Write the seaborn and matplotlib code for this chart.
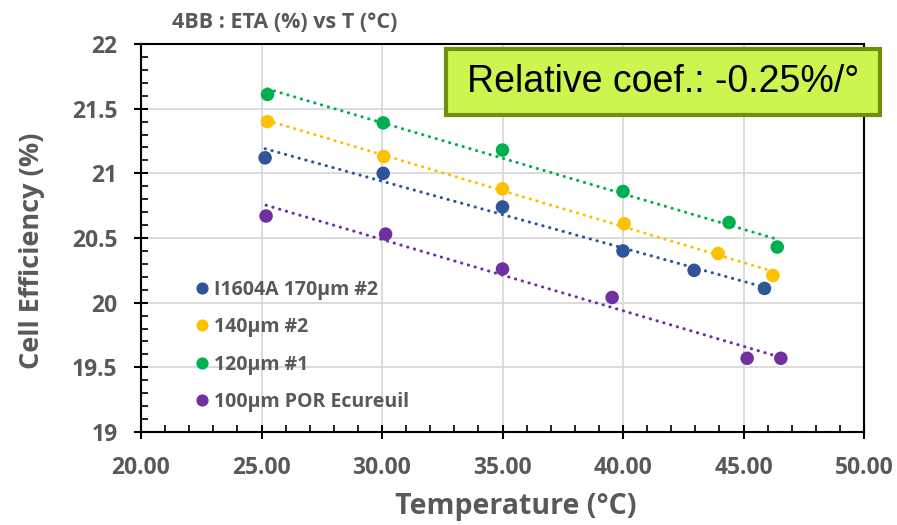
import matplotlib
matplotlib.use("Agg")
import matplotlib.pyplot as plt
import matplotlib.ticker as mticker
from matplotlib.patches import Rectangle
import seaborn as sns
import pandas as pd

# values
series_names = ["I1604A 170µm #2", "140µm #2", "120µm #1", "100µm POR Ecureuil"]
temp_1604 = [25.15, 30.05, 35.0, 40.0, 42.95, 45.87]
eta_1604 = [21.12, 21.00, 20.74, 20.40, 20.25, 20.11]
temp_140 = [25.25, 30.07, 35.0, 40.05, 43.95, 46.22]
eta_140 = [21.40, 21.13, 20.88, 20.61, 20.38, 20.21]
temp_120 = [25.25, 30.05, 35.0, 40.0, 44.4, 46.4]
eta_120 = [21.61, 21.39, 21.18, 20.86, 20.62, 20.43]
temp_100 = [25.19, 30.15, 35.0, 39.55, 45.15, 46.55]
eta_100 = [20.67, 20.53, 20.26, 20.04, 19.57, 19.57]

colors = ["#2F5597", "#FFC000", "#00B050", "#7030A0"]
gray = "#595959"

frames = []
for name, t, e in zip(series_names,
                      [temp_1604, temp_140, temp_120, temp_100],
                      [eta_1604, eta_140, eta_120, eta_100]):
    frames.append(pd.DataFrame({"T": t, "ETA": e, "cell": name}))
df = pd.concat(frames, ignore_index=True)

sns.set_style("white")
plt.rcParams["font.family"] = ["Open Sans", "DejaVu Sans"]
plt.rcParams["font.weight"] = "bold"

fig = plt.figure(figsize=(8.97, 5.25), dpi=100)
ax = fig.add_axes([141 / 897, 1 - 432 / 525, 723 / 897, 388 / 525])

# linear trend lines (dotted), one per cell
for name, c in zip(series_names, colors):
    sub = df[df["cell"] == name]
    sns.regplot(data=sub, x="T", y="ETA", ax=ax, scatter=False, ci=None,
                truncate=True, color=c,
                line_kws={"linestyle": (0, (0.1, 2.2)), "linewidth": 2.2,
                          "dash_capstyle": "round"})

sns.scatterplot(data=df, x="T", y="ETA", hue="cell", hue_order=series_names,
                palette=colors, s=95, edgecolor="none", ax=ax, zorder=3)

ax.set_xlim(20, 50)
ax.set_ylim(19, 22)
ax.xaxis.set_major_locator(mticker.MultipleLocator(5))
ax.xaxis.set_minor_locator(mticker.MultipleLocator(1))
ax.yaxis.set_major_locator(mticker.MultipleLocator(0.5))
ax.yaxis.set_minor_locator(mticker.MultipleLocator(0.1))
ax.xaxis.set_major_formatter(mticker.FormatStrFormatter("%.2f"))
ax.yaxis.set_major_formatter(mticker.FuncFormatter(lambda v, p: f"{v:g}"))

ax.grid(True, which="major", color="#D9D9D9", linewidth=1.3)
ax.set_axisbelow(True)
for sp in ax.spines.values():
    sp.set_visible(True)
    sp.set_color("black")
    sp.set_linewidth(1.5)

ax.tick_params(which="major", direction="inout", length=10, width=1.5,
               color="black", labelsize=16.5, labelcolor=gray)
ax.tick_params(axis="x", which="major", pad=12)
ax.tick_params(axis="y", which="major", pad=12)
ax.tick_params(which="minor", direction="in", length=5, width=1.2,
               color="black")
ax.tick_params(axis="x", which="both", bottom=True)
ax.tick_params(axis="y", which="both", left=True)

ax.set_xlabel("Temperature (°C)", fontsize=20.5, fontweight="bold",
              color=gray, va="center")
ax.set_ylabel("Cell Efficiency (%)", fontsize=19.5, fontweight="bold",
              color=gray, va="center")
ax.xaxis.set_label_coords(0.519, -0.191)
ax.yaxis.set_label_coords(-0.151, 0.466)

handles, labels = ax.get_legend_handles_labels()
leg = ax.legend(handles, labels, loc="center left",
                bbox_to_anchor=(0.073, 0.222), frameon=False,
                borderpad=0, borderaxespad=0, handletextpad=0.25,
                labelspacing=0.9, handlelength=0.8, markerscale=0.9,
                prop={"size": 14, "weight": "bold"})
for txt in leg.get_texts():
    txt.set_color(gray)

fig.text(285 / 897, 1 - 22 / 525, "4BB : ETA (%) vs T (°C)", ha="center",
         va="center", fontsize=15.5, fontweight="bold", color=gray)

# annotation box
fig.patches.append(Rectangle((446 / 897, 1 - 115 / 525), 434 / 897, 66 / 525,
                             transform=fig.transFigure, facecolor="#CCF550",
                             edgecolor="#6F900C", linewidth=3, zorder=5))
fig.text(663 / 897, 1 - 82 / 525, "Relative coef.: -0.25%/°", ha="center",
         va="center", fontsize=27, fontweight="normal", color="black",
         family="Liberation Sans", zorder=6)

fig.canvas.draw()
plt.setp(ax.get_xticklabels() + ax.get_yticklabels(), fontweight="bold")

fig.savefig("out.png", dpi=100)
